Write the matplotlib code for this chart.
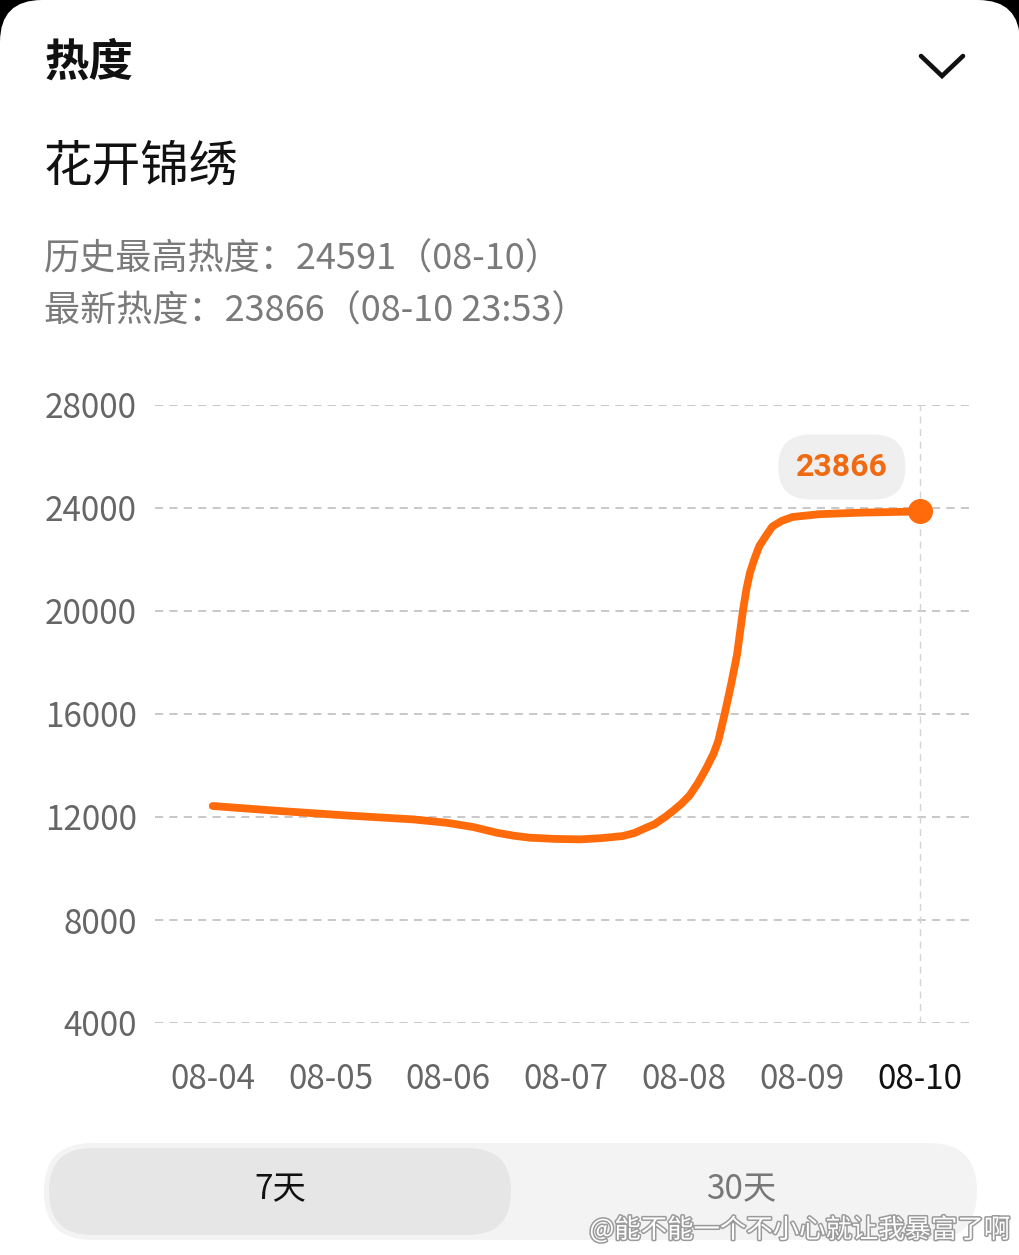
import matplotlib.pyplot as plt
from matplotlib.lines import Line2D
from matplotlib.patches import Rectangle, FancyBboxPatch
from matplotlib.transforms import IdentityTransform
import matplotlib.patheffects as pe

plt.rcParams['font.family'] = ['Noto Sans CJK SC', 'DejaVu Sans']

# heat values; x is days since 08-04
days = [0.00, 0.57, 1.13, 1.70, 1.98, 2.21, 2.41, 2.56, 2.69, 2.90, 3.12, 3.30,
        3.48, 3.58, 3.68, 3.75, 3.84, 3.91, 3.98, 4.05, 4.12, 4.19, 4.25, 4.29,
        4.345, 4.40, 4.45, 4.50, 4.53, 4.56, 4.60, 4.64, 4.70, 4.75, 4.83, 4.92, 5.15,
        5.50, 6.00]
heat = [12427, 12233, 12062, 11907, 11780, 11612, 11390, 11270, 11197, 11150, 11131, 11180,
        11260, 11380, 11585, 11720, 12000, 12250, 12520, 12850, 13330, 13900, 14450, 14940,
        16000, 17150, 18300, 20000, 20850, 21490, 22050, 22530, 22950, 23280, 23500, 23650, 23760,
        23820, 23866]
date_labels = ['08-04', '08-05', '08-06', '08-07', '08-08', '08-09', '08-10']
y_ticks = [4000, 8000, 12000, 16000, 20000, 24000, 28000]
latest = 23866

W, H = 1020, 1255
ORANGE = '#FF6A0A'
GREY = '#666666'

def fx(px):
    return px / W

def fy(py):
    return 1 - py / H

fig = plt.figure(figsize=(W / 100, H / 100), dpi=100)
fig.patch.set_facecolor('white')

# rounded card corners on black background
fig.add_artist(Rectangle((0, fy(60)), 1, 60 / H, transform=fig.transFigure,
                         facecolor='black', edgecolor='none', zorder=-3))
fig.add_artist(FancyBboxPatch((0, -200), W, H + 200, boxstyle='round,pad=0,rounding_size=42',
                              transform=IdentityTransform(), facecolor='white',
                              edgecolor='none', zorder=-2))

# header texts
fig.text(fx(45), fy(63), '热度', fontsize=32, fontweight='heavy', color='#111111', va='center')
fig.add_artist(Line2D([fx(921), fx(942), fx(963)], [fy(56), fy(76), fy(56)],
                      color='#111111', lw=3.3, solid_capstyle='round', solid_joinstyle='miter'))
fig.text(fx(44), fy(167), '花开锦绣', fontsize=35, fontweight='medium', color='#111111', va='center')
fig.text(fx(44), fy(260), '历史最高热度：24591（08-10）', fontsize=26, color='#7a7a7a', va='center')
fig.text(fx(44), fy(312), '最新热度：23866（08-10 23:53）', fontsize=26, color='#7a7a7a', va='center')

# chart
ax = fig.add_axes([fx(155), fy(1023), (975 - 155) / W, (1023 - 405) / H])
ax.set_xlim(-0.49, 6.47)
ax.set_ylim(4000, 28000)
for s in ax.spines.values():
    s.set_visible(False)
ax.set_facecolor('none')

for yt in y_ticks:
    ax.axhline(yt, color='#c8c8c8', lw=1.4, dashes=(4.2, 3.2), zorder=1)
ax.axvline(len(date_labels) - 1, color='#d4d4d4', lw=1.0, dashes=(5, 4), zorder=1)

ax.plot(days, heat, color=ORANGE, lw=5.6, solid_capstyle='round', solid_joinstyle='round', zorder=3)
ax.plot(days[-1], heat[-1], 'o', color=ORANGE, markersize=17, zorder=4)

ax.annotate(f'{latest}', xy=(days[-1], heat[-1]), xytext=(-56, 32), textcoords='offset points',
            ha='center', va='center', fontsize=23, fontweight='bold', color='#F06A12',
            fontfamily=['Roboto', 'DejaVu Sans'],
            bbox=dict(boxstyle='round,pad=0.55,rounding_size=1.0', fc='#efefef', ec='none'))

ax.set_yticks(y_ticks)
ax.set_yticklabels([str(v) for v in y_ticks])
ax.set_xticks(range(len(date_labels)))
ax.set_xticklabels(date_labels)
ax.tick_params(axis='both', length=0, labelsize=24, labelcolor=GREY)
ax.tick_params(axis='y', pad=13)
ax.tick_params(axis='x', pad=28)
ax.get_xticklabels()[-1].set_color('#111111')

# segmented control
fig.add_artist(FancyBboxPatch((44, H - 1240), 933, 97, boxstyle='round,pad=0,rounding_size=48',
                              transform=IdentityTransform(), facecolor='#f3f3f3',
                              edgecolor='none', zorder=1))
fig.add_artist(FancyBboxPatch((49, H - 1235), 462, 87, boxstyle='round,pad=0,rounding_size=43',
                              transform=IdentityTransform(), facecolor='#e6e6e6',
                              edgecolor='none', zorder=1.5))
fig.text(fx(280), fy(1190), '7天', fontsize=24, color='#111111', ha='center', va='center', zorder=3)
fig.text(fx(741), fy(1190), '30天', fontsize=24, color='#777777', ha='center', va='center', zorder=3)

# watermark
fig.text(fx(1010), fy(1230), '@能不能一个不小心就让我暴富了啊', fontsize=19, color='white',
         ha='right', va='center', zorder=5,
         path_effects=[pe.withStroke(linewidth=2.2, foreground='#9a9a9a')])

fig.savefig('out.png', dpi=100)
